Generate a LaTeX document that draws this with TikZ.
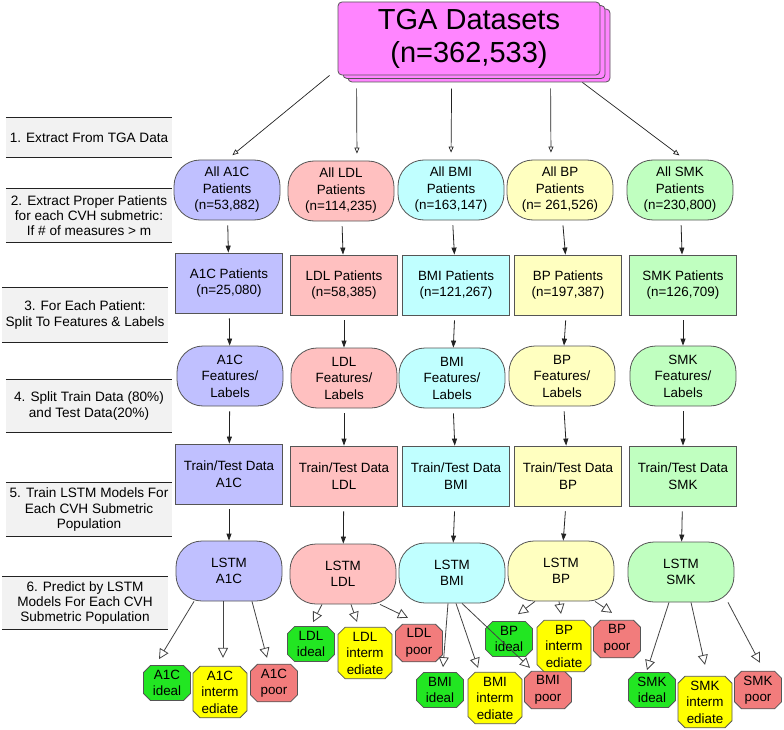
\documentclass[tikz,border=0pt]{standalone}
\usepackage{fontspec}
\setmainfont{Liberation Sans}
\usetikzlibrary{arrows.meta,shapes.misc,shadows}
\definecolor{ink}{HTML}{222222}
\definecolor{edge}{HTML}{555555}
\definecolor{stepfill}{HTML}{F2F2F2}
\definecolor{tgafill}{HTML}{FF85FF}
\definecolor{a1cfill}{HTML}{C0C0FF}
\definecolor{ldlfill}{HTML}{FFC0C0}
\definecolor{bmifill}{HTML}{C0FFFF}
\definecolor{bpfill}{HTML}{FFFFC0}
\definecolor{smkfill}{HTML}{C0FFC0}
\definecolor{idealfill}{HTML}{22E622}
\definecolor{intermfill}{HTML}{FFFF00}
\definecolor{poorfill}{HTML}{F27C7C}
\newcommand{\boxfont}{\fontsize{13.4}{16.5}\selectfont}
\newcommand{\stepfont}{\fontsize{13.6}{15.2}\selectfont}
\newcommand{\titlefont}{\fontsize{29}{33}\selectfont}
\tikzset{
 every node/.append style={font=\boxfont,text=black,align=center},
 pill/.style={draw=edge,line width=.8pt,rounded corners=26pt,minimum width=106pt,minimum height=60pt,inner sep=2pt},
 block/.style={draw=edge,line width=.8pt,minimum width=107pt,minimum height=60pt,inner sep=2pt},
 tga/.style={draw=edge,fill=tgafill,rounded corners=4pt,line width=.8pt,font=\titlefont,
   double copy shadow={shadow xshift=5pt,shadow yshift=-3.5pt}},
 stepnote/.style={fill=stepfill,font=\stepfont,minimum width=166pt,inner sep=2pt},
 rule/.style={draw=ink,line width=.8pt},
 leaf/.style={chamfered rectangle,chamfered rectangle sep=3.5pt,draw=edge,line width=.8pt,inner sep=1pt,minimum width=47pt,minimum height=29pt},
 ideal/.style={leaf,fill=idealfill},
 interm/.style={leaf,fill=intermfill,minimum width=54pt},
 poor/.style={leaf,fill=poorfill},
 feed/.style={-{Triangle[length=7pt,width=5pt]},draw=ink,line width=.8pt,shorten <=5pt},
 fan/.style={-{Triangle[open,length=6pt,width=5pt]},draw=ink,line width=.7pt,shorten >=7pt},
 split/.style={-{Triangle[open,length=10pt,width=10pt]},draw=ink!85,line width=.8pt},
}

\begin{document}
\begin{tikzpicture}[x=1pt,y=-1pt]
\useasboundingbox (0,0) rectangle (784,730);

\node[tga,minimum width=262pt,minimum height=73pt] (tga) at (469,38.5) {TGA Datasets\\(n=362,533)};

\node[stepnote,minimum height=39pt] (s1) at (89,137.5) {1. Extract From TGA Data};
\node[stepnote,minimum height=53pt] (s2) at (89,215.5) {2. Extract Proper Patients\\for each CVH submetric:\\If \# of measures > m};
\node[stepnote,minimum height=54pt] (s3) at (85,315) {3. For Each Patient:\\Split To Features \& Labels};
\node[stepnote,minimum height=52pt] (s4) at (89,406) {4. Split Train Data (80\%)\\and Test Data(20\%)};
\node[stepnote,minimum height=53pt] (s5) at (89,509.5) {5. Train LSTM Models For\\Each CVH Submetric\\Population};
\node[stepnote,minimum height=52pt] (s6) at (85,603) {6. Predict by LSTM\\Models For Each CVH\\Submetric Population};
\draw[rule] (s1.north west) -- (s1.north east) (s1.south west) -- (s1.south east);
\draw[rule] (s2.north west) -- (s2.north east) (s2.south west) -- (s2.south east);
\draw[rule] (s3.north west) -- (s3.north east) (s3.south west) -- (s3.south east);
\draw[rule] (s4.north west) -- (s4.north east) (s4.south west) -- (s4.south east);
\draw[rule] (s5.north west) -- (s5.north east) (s5.south west) -- (s5.south east);
\draw[rule] (s6.north west) -- (s6.north east) (s6.south west) -- (s6.south east);

% all patients per submetric
\node[pill,fill=a1cfill] (a1call) at (227,190) {All A1C\\Patients\\(n=53,882)};
\node[pill,fill=ldlfill] (ldlall) at (341,191) {All LDL\\Patients\\(n=114,235)};
\node[pill,fill=bmifill] (bmiall) at (451,190) {All BMI\\Patients\\(n=163,147)};
\node[pill,fill=bpfill] (bpall) at (560,190) {All BP\\Patients\\(n= 261,526)};
\node[pill,fill=smkfill] (smkall) at (680,190) {All SMK\\Patients\\(n=230,800)};

\node[block,fill=a1cfill] (a1cpat) at (229,283) {A1C Patients\\(n=25,080)};
\node[block,fill=ldlfill] (ldlpat) at (344,285) {LDL Patients\\(n=58,385)};
\node[block,fill=bmifill] (bmipat) at (456,285) {BMI Patients\\(n=121,267)};
\node[block,fill=bpfill] (bppat) at (568,285) {BP Patients\\(n=197,387)};
\node[block,fill=smkfill] (smkpat) at (683,285) {SMK Patients\\(n=126,709)};

\node[pill,fill=a1cfill] (a1cfeat) at (230,376) {A1C\\Features/\\Labels};
\node[pill,fill=ldlfill] (ldlfeat) at (344,378) {LDL\\Features/\\Labels};
\node[pill,fill=bmifill] (bmifeat) at (452,378) {BMI\\Features/\\Labels};
\node[pill,fill=bpfill] (bpfeat) at (562,376) {BP\\Features/\\Labels};
\node[pill,fill=smkfill] (smkfeat) at (683,376) {SMK\\Features/\\Labels};

\node[block,fill=a1cfill] (a1ctrain) at (229,474) {Train/Test Data\\A1C};
\node[block,fill=ldlfill] (ldltrain) at (344,476) {Train/Test Data\\LDL};
\node[block,fill=bmifill] (bmitrain) at (456,476) {Train/Test Data\\BMI};
\node[block,fill=bpfill] (bptrain) at (568,476) {Train/Test Data\\BP};
\node[block,fill=smkfill] (smktrain) at (683,476) {Train/Test Data\\SMK};

\node[pill,fill=a1cfill] (a1clstm) at (229,571) {LSTM\\A1C};
\node[pill,fill=ldlfill] (ldllstm) at (343,574) {LSTM\\LDL};
\node[pill,fill=bmifill] (bmilstm) at (452,573) {LSTM\\BMI};
\node[pill,fill=bpfill] (bplstm) at (561,571) {LSTM\\BP};
\node[pill,fill=smkfill] (smklstm) at (681,572) {LSTM\\SMK};

\draw[fan] ([xshift=-8pt]tga.south west) -- (a1call.north);
\draw[fan] ([xshift=19pt,yshift=-13pt]tga.south west) -- ([xshift=16pt]ldlall.north);
\draw[fan] ([xshift=114pt,yshift=-13pt]tga.south west) -- (bmiall.north);
\draw[fan] ([xshift=213pt,yshift=-13pt]tga.south west) -- ([xshift=-9pt]bpall.north);
\draw[fan] ([xshift=-18pt,yshift=-7pt]tga.south east) -- ([xshift=5pt]smkall.north);

\draw[feed] (a1call) -- (a1cpat);
\draw[feed] (ldlall) -- (ldlpat);
\draw[feed] (bmiall) -- (bmipat);
\draw[feed] (bpall) -- (bppat);
\draw[feed] (smkall) -- (smkpat);
\draw[feed] (a1cpat) -- (a1cfeat);
\draw[feed] (ldlpat) -- (ldlfeat);
\draw[feed] (bmipat) -- (bmifeat);
\draw[feed] (bppat) -- (bpfeat);
\draw[feed] (smkpat) -- (smkfeat);
\draw[feed] (a1cfeat) -- (a1ctrain);
\draw[feed] (ldlfeat) -- (ldltrain);
\draw[feed] (bmifeat) -- (bmitrain);
\draw[feed] (bpfeat) -- (bptrain);
\draw[feed] (smkfeat) -- (smktrain);
\draw[feed] (a1ctrain) -- (a1clstm);
\draw[feed] (ldltrain) -- (ldllstm);
\draw[feed] (bmitrain) -- (bmilstm);
\draw[feed] (bptrain) -- (bplstm);
\draw[feed] (smktrain) -- (smklstm);

% predicted levels
\node[ideal] (a1cideal) at (167,683) {A1C\\ideal};
\node[interm] (a1cinterm) at (220,692) {A1C\\interm\\ediate};
\node[poor] (a1cpoor) at (274,683) {A1C\\poor};
\node[ideal] (ldlideal) at (311,644) {LDL\\ideal};
\node[interm] (ldlinterm) at (365,653) {LDL\\interm\\ediate};
\node[poor] (ldlpoor) at (419,643) {LDL\\poor};
\node[ideal] (bmiideal) at (440,690) {BMI\\ideal};
\node[interm] (bmiinterm) at (495,698) {BMI\\interm\\ediate};
\node[poor] (bmipoor) at (548,690) {BMI\\poor};
\node[ideal] (bpideal) at (509,639) {BP\\ideal};
\node[interm] (bpinterm) at (564,646) {BP\\interm\\ediate};
\node[poor] (bppoor) at (617,639) {BP\\poor};
\node[ideal] (smkideal) at (652,690) {SMK\\ideal};
\node[interm] (smkinterm) at (705,702) {SMK\\interm\\ediate};
\node[poor] (smkpoor) at (758,690) {SMK\\poor};

\draw[split] ([xshift=-35pt]a1clstm.south) -- ([xshift=-8pt,yshift=6pt]a1cideal.north);
\draw[split] ([xshift=-6pt]a1clstm.south) -- ([xshift=3pt,yshift=8pt]a1cinterm.north);
\draw[split] ([xshift=23pt]a1clstm.south) -- ([xshift=-7pt,yshift=6pt]a1cpoor.north);
\draw[split] ([xshift=-21pt]ldllstm.south) -- ([xshift=2pt,yshift=4pt]ldlideal.north);
\draw[split] ([xshift=8pt]ldllstm.south) -- ([xshift=-8pt,yshift=5pt]ldlinterm.north);
\draw[split] ([xshift=37pt]ldllstm.south) -- ([xshift=-11pt,yshift=6pt]ldlpoor.north);
\draw[split] ([xshift=-4pt]bmilstm.south) -- ([xshift=3pt,yshift=5pt]bmiideal.north);
\draw[split] ([xshift=4pt]bmilstm.south) -- ([xshift=-17pt,yshift=4pt]bmiinterm.north);
\draw[split] ([xshift=10pt]bmilstm.south) -- ([xshift=-18pt,yshift=3pt]bmipoor.north);
\draw[split] ([xshift=-26pt]bplstm.south) -- ([xshift=9pt,yshift=7pt]bpideal.north);
\draw[split] ([xshift=-2pt]bplstm.south) -- ([xshift=-3pt,yshift=6pt]bpinterm.north);
\draw[split] ([xshift=34pt]bplstm.south) -- ([xshift=-5pt,yshift=7pt]bppoor.north);
\draw[split] ([xshift=-12pt]smklstm.south) -- ([xshift=-5pt,yshift=2pt]smkideal.north);
\draw[split] ([xshift=10pt]smklstm.south) -- ([yshift=11pt]smkinterm.north);
\draw[split] ([xshift=47pt]smklstm.south) -- ([xshift=2pt,yshift=8pt]smkpoor.north);

\end{tikzpicture}
\end{document}
